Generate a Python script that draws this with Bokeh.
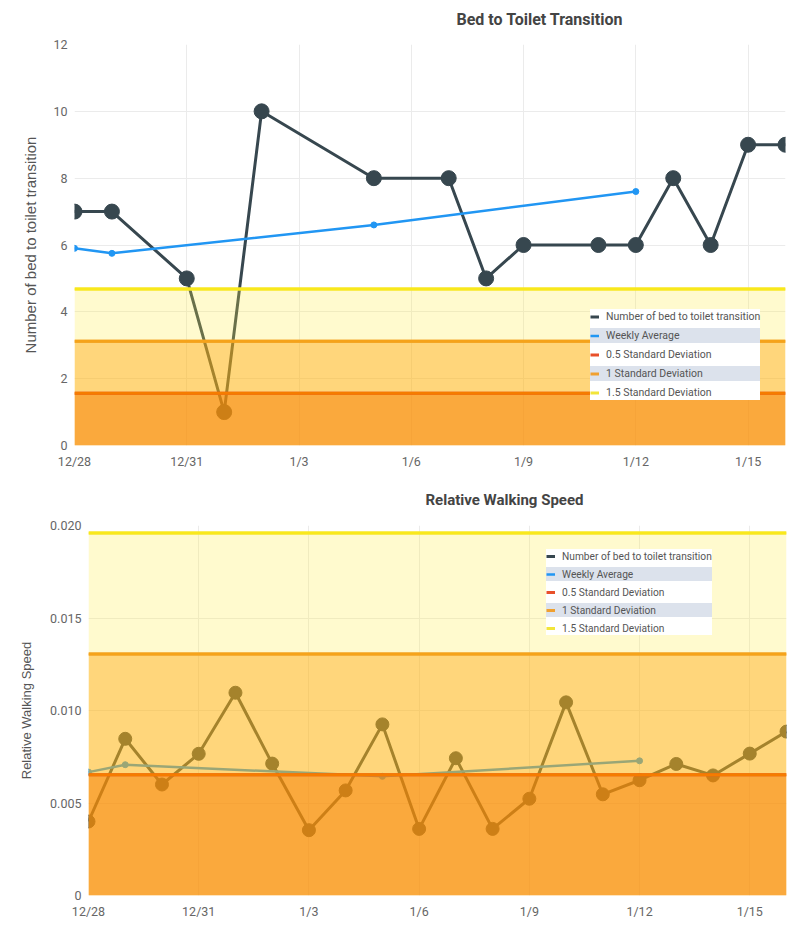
from bokeh.plotting import figure
from bokeh.layouts import column
from bokeh.models import FixedTicker, Legend, LegendItem, Range1d
from bokeh.embed import file_html
from bokeh.resources import INLINE

# ---------------- data ----------------
dates = ["12/28", "12/29", "12/30", "12/31", "1/1", "1/2", "1/3", "1/4", "1/5", "1/6",
         "1/7", "1/8", "1/9", "1/10", "1/11", "1/12", "1/13", "1/14", "1/15", "1/16"]
x_tick_labels = ["12/28", "12/31", "1/3", "1/6", "1/9", "1/12", "1/15"]

toilet_dates = ["12/28", "12/29", "12/31", "1/1", "1/2", "1/5", "1/7", "1/8", "1/9",
                "1/11", "1/12", "1/13", "1/14", "1/15", "1/16"]
toilet_counts = [7, 7, 5, 1, 10, 8, 8, 5, 6, 6, 6, 8, 6, 9, 9]
toilet_week_dates = ["12/28", "12/29", "1/5", "1/12"]
toilet_week_avg = [5.9, 5.75, 6.6, 7.6]
toilet_sd_levels = [1.56, 3.12, 4.68]          # 0.5, 1, 1.5 standard deviations
toilet_y_ticks = [0, 2, 4, 6, 8, 10, 12]

speed_dates = dates
speed_values = [0.0040, 0.00847, 0.0060, 0.00766, 0.01096, 0.00713, 0.00353, 0.00568,
                0.00925, 0.0036, 0.00742, 0.0036, 0.00523, 0.01044, 0.00547, 0.00623,
                0.00711, 0.00649, 0.00767, 0.00886]
speed_week_dates = ["12/28", "12/29", "1/5", "1/12"]
speed_week_avg = [0.00667, 0.00707, 0.00644, 0.00728]
speed_sd_levels = [0.00653, 0.01306, 0.01959]
speed_y_ticks = [0, 0.005, 0.01, 0.015, 0.02]
speed_y_labels = ["0", "0.005", "0.010", "0.015", "0.020"]

legend_labels = ["Number of bed to toilet transition", "Weekly Average",
                 "0.5 Standard Deviation", "1 Standard Deviation", "1.5 Standard Deviation"]

# ---------------- styles ----------------
DATA_C = "#37474F"
AVG_C = "#2196F3"
LEGEND_LEVEL_COLORS = ["#E8502A", "#F0A030", "#F2E53A"]
LEVEL_LINE_COLORS = ["#F57C00", "#F5A31A", "#F9E81B"]
BAND_FILLS = [("#F57C00", 0.5), ("#FFA000", 0.4), ("#FFEB3B", 0.25)]
FONT = "Roboto"


def idx(labels):
    return [dates.index(d) for d in labels]


def make_chart(title, ylabel, xs, ys, wx, wy, levels, yticks, ylabels, ymax,
               width, height, border_left, border_top, border_bottom, title_offset,
               title_size, title_standoff, marker_size, ylabel_size, ylabel_standoff,
               legend_loc, legend_font, legend_row):
    p = figure(width=width, height=height, output_backend="svg", toolbar_location=None,
               x_range=Range1d(0, len(dates) - 1), y_range=Range1d(0, ymax),
               min_border_left=border_left, min_border_right=7,
               min_border_top=border_top, min_border_bottom=border_bottom)
    p.frame_align = False
    p.outline_line_color = None
    p.background_fill_color = "white"

    p.title.text = title
    p.title.align = "left"
    p.title.offset = title_offset
    p.title.text_font = FONT
    p.title.text_font_size = title_size
    p.title.text_font_style = "bold"
    p.title.text_color = "#444444"
    p.title.standoff = title_standoff

    x_ticks = idx(x_tick_labels)
    p.xaxis.ticker = FixedTicker(ticks=x_ticks)
    p.xaxis.major_label_overrides = {t: l for t, l in zip(x_ticks, x_tick_labels)}
    p.yaxis.ticker = FixedTicker(ticks=yticks)
    p.yaxis.major_label_overrides = {t: l for t, l in zip(yticks, ylabels)}
    p.yaxis.axis_label = ylabel
    p.yaxis.axis_label_text_font = "Liberation Sans"
    p.yaxis.axis_label_text_font_style = "normal"
    p.yaxis.axis_label_text_font_size = ylabel_size
    p.yaxis.axis_label_text_color = "#555555"
    p.yaxis.axis_label_standoff = ylabel_standoff
    for ax in (p.xaxis, p.yaxis):
        ax.axis_line_color = None
        ax.major_tick_line_color = None
        ax.minor_tick_line_color = None
        ax.major_tick_out = 0
        ax.major_tick_in = 0
        ax.minor_tick_out = 0
        ax.minor_tick_in = 0
        ax.major_label_text_font = FONT
        ax.major_label_text_font_size = "12.5px"
        ax.major_label_text_color = "#666666"
    p.yaxis.major_label_standoff = 7
    p.xaxis.major_label_standoff = 8
    p.xgrid.grid_line_color = "#ebebeb"
    p.ygrid.grid_line_color = "#ebebeb"

    # data series
    r_data = p.line(xs, ys, line_color=DATA_C, line_width=3)
    p.scatter(xs, ys, size=marker_size, color=DATA_C)
    r_avg = p.line(wx, wy, line_color=AVG_C, line_width=2.5)
    p.scatter(wx, wy, size=6, color=AVG_C)

    # standard deviation bands (translucent, drawn over the data)
    n = len(dates) - 1
    for lvl, (fc, fa) in zip(reversed(levels), reversed(BAND_FILLS)):
        p.quad(left=[0], right=[n], bottom=[0], top=[lvl], fill_color=fc,
               fill_alpha=fa, line_color=None)
    level_rends = []
    for lvl, lc in zip(levels, LEGEND_LEVEL_COLORS):
        level_rends.append(p.line([0, n], [lvl, lvl], line_color=lc, line_width=3))
    for lvl, lc in zip(levels, LEVEL_LINE_COLORS):
        p.line([0, n], [lvl, lvl], line_color=lc, line_width=3)

    # legend
    rends = [r_data, r_avg] + level_rends
    legend = Legend(items=[LegendItem(label=l, renderers=[r]) for l, r in zip(legend_labels, rends)],
                    location=legend_loc)
    legend.label_text_font = FONT
    legend.label_text_font_size = legend_font
    legend.label_text_color = "#555555"
    legend.glyph_width = 9
    legend.glyph_height = legend_row
    legend.label_height = legend_row
    legend.label_standoff = 7
    legend.spacing = 4
    legend.padding = 3
    legend.margin = 0
    legend.border_line_color = None
    legend.background_fill_color = "white"
    legend.background_fill_alpha = 1.0
    legend.item_background_policy = "odd"
    legend.item_background_fill_color = "#DCE2EC"
    legend.item_background_fill_alpha = 1.0
    p.add_layout(legend)
    return p


p1 = make_chart("Bed to Toilet Transition", "Number of bed to toilet transition",
                idx(toilet_dates), toilet_counts, idx(toilet_week_dates), toilet_week_avg,
                toilet_sd_levels, toilet_y_ticks, [str(t) for t in toilet_y_ticks], 12,
                792, 480, 74, 52, 27, 382, "16px", 31, 15, "15px", 11, (516, 45), "10.5px", 15)
p1.margin = (-8, 0, 0, 0)

p2 = make_chart("Relative Walking Speed", "Relative Walking Speed",
                idx(speed_dates), speed_values, idx(speed_week_dates), speed_week_avg,
                speed_sd_levels, speed_y_ticks, speed_y_labels, 0.02,
                793, 453, 88, 51, 30, 337, "15px", 33, 13, "13px", 13, (458, 260), "10.2px", 14)

layout = column(p1, p2, spacing=0)
open("out.html", "w").write(file_html(layout, INLINE))
